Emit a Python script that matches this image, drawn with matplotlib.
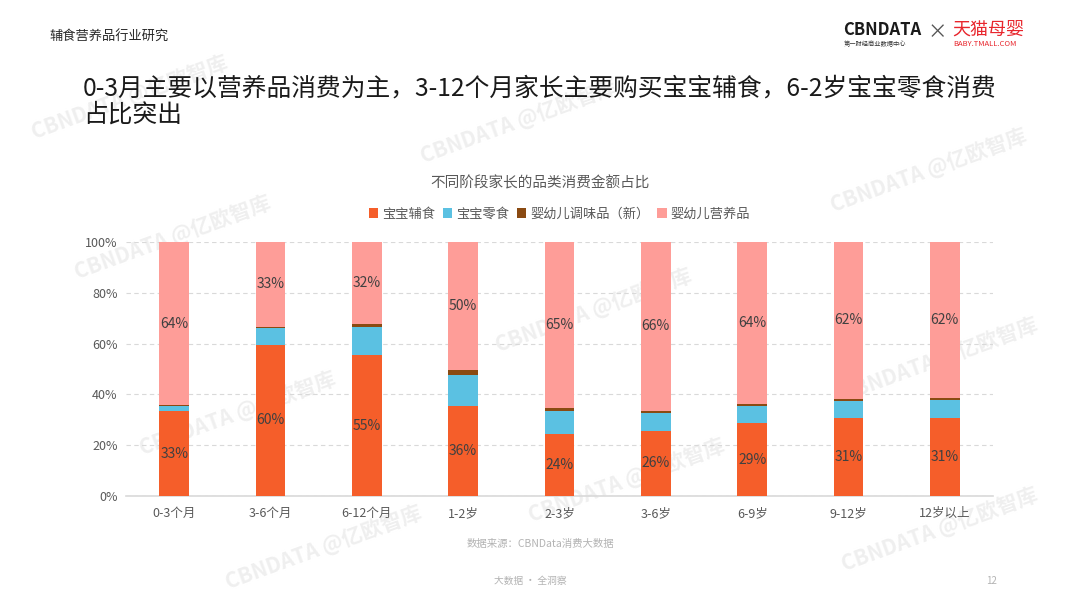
import numpy as np
import matplotlib.pyplot as plt

plt.rcParams['font.family'] = ['Noto Sans CJK SC', 'DejaVu Sans']

stages = ['0-3个月', '3-6个月', '6-12个月', '1-2岁', '2-3岁', '3-6岁', '6-9岁', '9-12岁', '12岁以上']
fushi = [33.4, 59.5, 55.4, 35.6, 24.4, 25.6, 28.6, 30.8, 30.9]      # 宝宝辅食
lingshi = [2.0, 6.5, 11.1, 12.0, 9.1, 7.2, 6.9, 6.7, 7.0]          # 宝宝零食
tiaowei = [0.3, 0.7, 1.3, 1.9, 1.0, 0.8, 0.7, 0.7, 0.6]            # 婴幼儿调味品（新）
yingyang = [64.3, 33.3, 32.2, 50.5, 65.4, 66.4, 63.8, 61.8, 61.6]  # 婴幼儿营养品

series_names = ['宝宝辅食', '宝宝零食', '婴幼儿调味品（新）', '婴幼儿营养品']
colors = ['#f55e2a', '#5bc1e2', '#8a4a12', '#fe9d98']

fig = plt.figure(figsize=(10.8, 6.08), dpi=100)
fig.patch.set_facecolor('white')

# faint watermark behind everything
wm_pos = [(0.12, 0.84), (0.48, 0.80), (0.16, 0.61), (0.55, 0.49), (0.86, 0.72),
          (0.87, 0.41), (0.22, 0.32), (0.58, 0.21), (0.87, 0.13), (0.30, 0.10)]
for wx, wy in wm_pos:
    fig.text(wx, wy, 'CBNDATA @亿欧智库', fontsize=15, color='#efefef', rotation=20,
             ha='center', va='center', fontweight='bold', zorder=-1)

ax = fig.add_axes([0.1167, 0.1842, 0.8027, 0.4178])
ax.set_zorder(2)
ax.set_facecolor('none')
x = np.arange(len(stages))
w = 0.31
data = [fushi, lingshi, tiaowei, yingyang]
bottom = np.zeros(len(stages))
for vals, name, c in zip(data, series_names, colors):
    v = np.array(vals) / 100
    ax.bar(x, v, w, bottom=bottom, color=c, label=name, zorder=3)
    if name in ('宝宝辅食', '婴幼儿营养品'):
        for xi, b, vi in zip(x, bottom, v):
            ax.text(xi, b + vi / 2, '{:.0f}%'.format(vi * 100), ha='center', va='center',
                    fontsize=10, color='#404040', zorder=4)
    bottom += v

ax.set_xlim(-0.5, len(stages) - 0.5)
ax.set_ylim(0, 1)
ax.set_yticks(np.arange(0, 1.01, 0.2))
ax.set_yticklabels(['{:.0f}%'.format(t * 100) for t in np.arange(0, 1.01, 0.2)])
ax.set_xticks(x)
ax.set_xticklabels(stages)
ax.tick_params(axis='both', length=0, labelsize=9, labelcolor='#595959')
ax.tick_params(axis='x', pad=8)
ax.tick_params(axis='y', pad=6)
ax.grid(axis='y', color='#d9d9d9', linestyle=(0, (4, 3)), linewidth=0.8, zorder=0)
for s in ['top', 'right', 'left']:
    ax.spines[s].set_visible(False)
ax.spines['bottom'].set_color('#d9d9d9')
ax.spines['bottom'].set_linewidth(1.2)

ax.legend(loc='center', bbox_to_anchor=(0.5, 1.11), ncol=4, frameon=False, fontsize=9.5,
          handlelength=0.7, handleheight=0.7, handletextpad=0.3, columnspacing=0.6,
          labelcolor='#595959')

fig.text(0.5, 0.699, '不同阶段家长的品类消费金额占比', ha='center', va='center',
         fontsize=10.5, color='#595959')

# header
fig.text(0.046, 0.938, '辅食营养品行业研究', fontsize=9.5, color='#262626', va='center')
fig.text(0.077, 0.854, '0-3月主要以营养品消费为主，3-12个月家长主要购买宝宝辅食，6-2岁宝宝零食消费',
         fontsize=17.8, color='#1a1a1a', va='center')
fig.text(0.077, 0.811, '占比突出', fontsize=17.8, color='#1a1a1a', va='center')

# logos
fig.text(0.781, 0.951, 'CBNDATA', fontsize=12, fontweight='bold', color='#1a1a1a', va='center')
fig.text(0.781, 0.928, '第一财经商业数据中心', fontsize=4.5, color='#333333', va='center')
fig.text(0.859, 0.946, '×', fontsize=14, color='#555555', va='center')
fig.text(0.882, 0.951, '天猫母婴', fontsize=13, color='#e8262d', va='center')
fig.text(0.883, 0.928, 'BABY.TMALL.COM', fontsize=5.5, color='#e8262d', va='center')

# footer
fig.text(0.50, 0.105, '数据来源：CBNData消费大数据', fontsize=7.5, color='#b3b3b3',
         ha='center', va='center')
fig.text(0.491, 0.045, '大数据 · 全洞察', fontsize=7, color='#b3b3b3', ha='center', va='center')
fig.text(0.918, 0.045, '12', fontsize=7, color='#b3b3b3', ha='center', va='center')

fig.savefig('out.png', dpi=100, facecolor='white')
